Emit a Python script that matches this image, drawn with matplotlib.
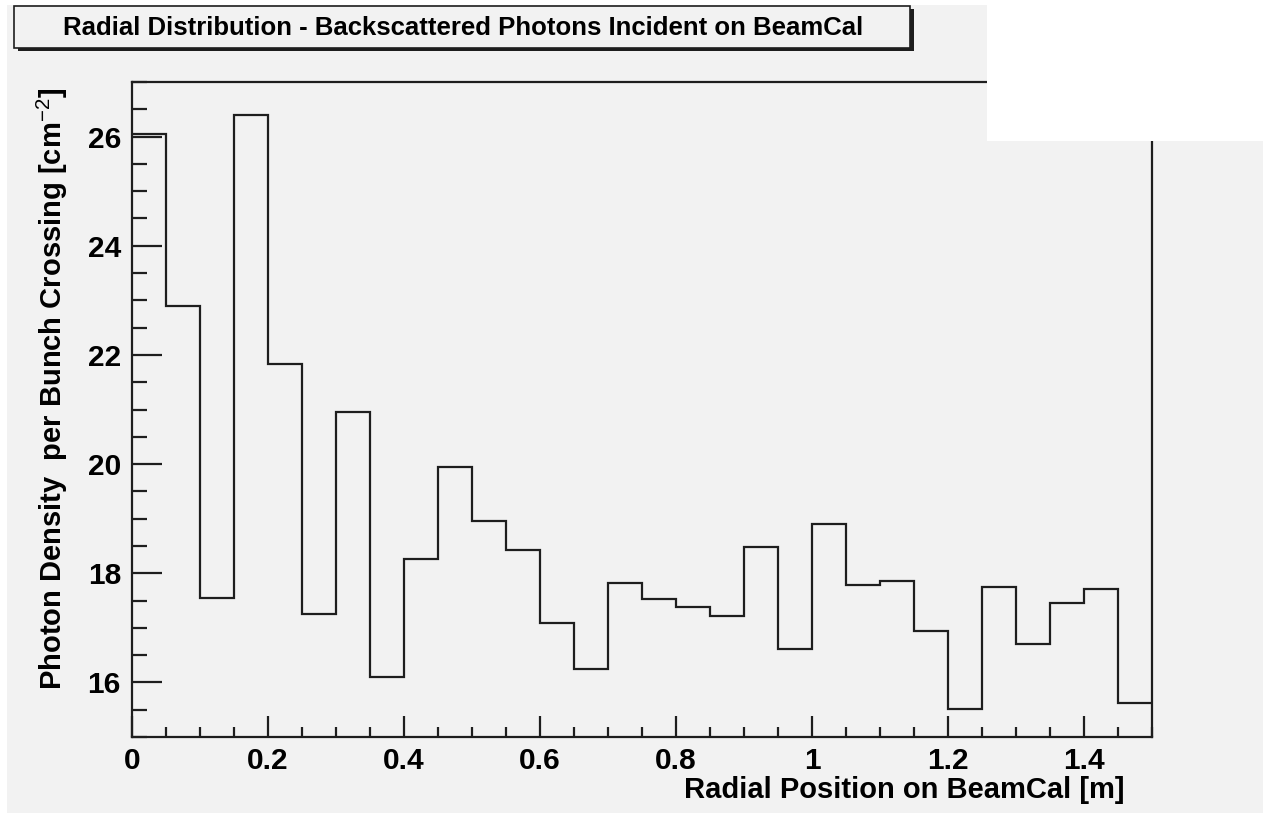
import numpy as np
import matplotlib
matplotlib.use("Agg")
import matplotlib.pyplot as plt
from matplotlib.patches import Rectangle
from matplotlib.ticker import MultipleLocator

plt.rcParams['font.family'] = ['Liberation Sans', 'DejaVu Sans']
plt.rcParams['mathtext.fontset'] = 'custom'
plt.rcParams['mathtext.rm'] = 'Liberation Sans'
plt.rcParams['mathtext.bf'] = 'Liberation Sans:bold'

# histogram contents, 30 bins of 0.05 m
bin_edges = np.linspace(0.0, 1.5, 31)
density = [26.04, 22.90, 17.55, 26.39, 21.83, 17.25, 20.95, 16.10, 18.26, 19.94,
           18.96, 18.42, 17.08, 16.24, 17.82, 17.52, 17.38, 17.21, 18.49, 16.61,
           18.90, 17.79, 17.85, 16.94, 15.52, 17.75, 16.70, 17.45, 17.71, 15.63]

title = "Radial Distribution - Backscattered Photons Incident on BeamCal"
xlabel = "Radial Position on BeamCal [m]"
ylabel = r"Photon Density  per Bunch Crossing [cm$^{-2}$]"

W, H = 1263, 815
bg = "#f2f2f2"
ink = "#1e1e1e"

fig = plt.figure(figsize=(W / 100, H / 100), dpi=100, facecolor="white")

def px_rect(x0, y0, x1, y1, **kw):
    # rectangle given in pixel coords measured from the top-left corner
    r = Rectangle((x0 / W, 1 - y1 / H), (x1 - x0) / W, (y1 - y0) / H,
                  transform=fig.transFigure, **kw)
    fig.patches.append(r)
    return r

# grey canvas
px_rect(7, 5, W, 813, facecolor=bg, edgecolor="none", zorder=-5)

ax = fig.add_axes([132 / W, 1 - 737 / H, (1152 - 132) / W, (737 - 82) / H])
ax.set_facecolor(bg)
ax.stairs(density, bin_edges, color=ink, linewidth=1.6, baseline=None)

ax.set_xlim(0, 1.5)
ax.set_ylim(15, 27)
ax.xaxis.set_major_locator(MultipleLocator(0.2))
ax.xaxis.set_minor_locator(MultipleLocator(0.05))
ax.yaxis.set_major_locator(MultipleLocator(2))
ax.yaxis.set_minor_locator(MultipleLocator(0.5))
ax.xaxis.set_major_formatter(plt.FuncFormatter(lambda v, p: "%g" % round(v, 2)))

for s in ax.spines.values():
    s.set_linewidth(1.6)
    s.set_color(ink)

ax.tick_params(axis="x", which="major", direction="in", length=15, width=1.6,
               color=ink, labelsize=21.5, pad=7)
ax.tick_params(axis="x", which="minor", direction="in", length=7.5, width=1.6, color=ink)
ax.tick_params(axis="y", which="major", direction="in", length=21.6, width=1.6,
               color=ink, labelsize=21.5, pad=8)
ax.tick_params(axis="y", which="minor", direction="in", length=10.8, width=1.6, color=ink)
for lab in ax.get_xticklabels() + ax.get_yticklabels():
    lab.set_fontweight("bold")

ax.set_xlabel(xlabel, fontsize=21, fontweight="bold", ha="right", va="center")
ax.xaxis.set_label_coords((1124 - 132) / 1020, (737 - 790) / 655)
ax.set_ylabel(ylabel, fontsize=21, fontweight="bold", ha="right", va="center")
ax.yaxis.set_label_coords((52 - 132) / 1020, (737 - 88) / 655)

# white patch over the top-right corner
px_rect(987, 0, W, 141, facecolor="white", edgecolor="none", zorder=5)

# title box with shadow
px_rect(18, 9, 914, 51, facecolor=ink, edgecolor="none", zorder=6)
px_rect(14, 6, 910, 48, facecolor=bg, edgecolor=ink, linewidth=1.2, zorder=7)
fig.text(463 / W, 1 - 28 / H, title, ha="center", va="center", fontsize=18.5,
         fontweight="bold", color="black", zorder=8)

fig.savefig("out.png", dpi=100, facecolor="white")
